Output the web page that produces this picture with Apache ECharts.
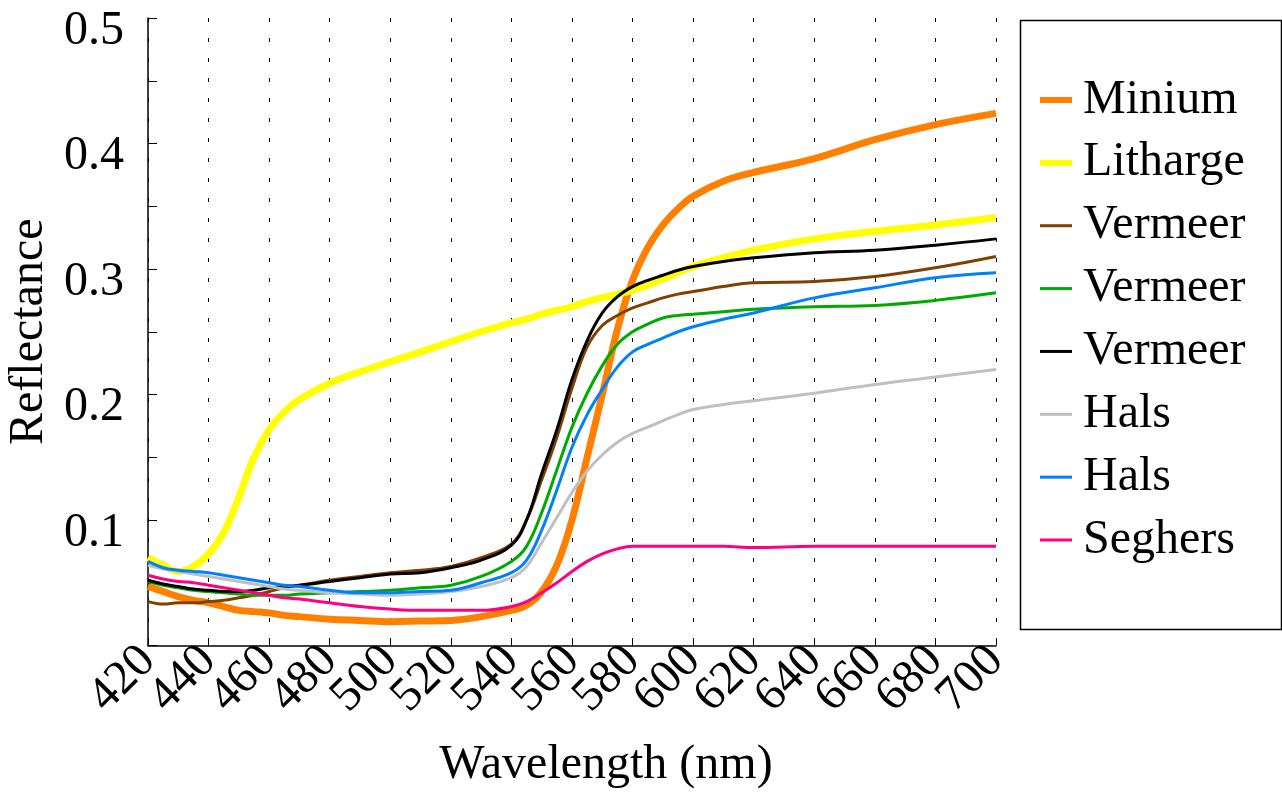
<!DOCTYPE html>
<html>
<head>
<meta charset="utf-8">
<script src="https://cdn.jsdelivr.net/npm/echarts@6/dist/echarts.min.js"></script>
<style>
html,body{margin:0;padding:0;background:#fff;}
#chart{width:1282px;height:798px;}
</style>
</head>
<body>
<div id="chart"></div>
<script>
var wavelengths = [420,425,430,435,440,445,450,455,460,465,470,480,490,500,510,520,530,540,545,550,555,560,565,570,575,580,585,590,595,600,610,620,640,660,680,700];

var minium   = [.047,.043,.039,.036,.034,.031,.028,.027,.026,.024,.023,.021,.020,.019,.0195,.020,.023,.028,.032,.043,.064,.100,.150,.200,.252,.291,.317,.335,.348,.358,.370,.377,.388,.403,.415,.424];
var litharge = [.070,.064,.059,.063,.073,.090,.118,.150,.172,.186,.196,.209,.218,.226,.234,.242,.250,.257,.260,.264,.267,.270,.274,.277,.280,.283,.287,.292,.297,.302,.309,.315,.324,.330,.335,.341];
var vermeer1 = [.035,.033,.034,.034,.035,.036,.038,.040,.043,.046,.048,.052,.055,.058,.060,.063,.070,.081,.100,.132,.166,.205,.238,.255,.263,.269,.273,.277,.280,.282,.286,.289,.290,.294,.301,.310];
var vermeer2 = [.051,.048,.046,.044,.043,.042,.041,.040,.040,.040,.041,.042,.043,.044,.046,.048,.055,.067,.079,.106,.140,.174,.201,.223,.240,.250,.256,.261,.263,.264,.266,.268,.270,.271,.275,.281];
var vermeer3 = [.052,.049,.047,.045,.044,.043,.043,.044,.046,.047,.048,.051,.054,.057,.058,.062,.068,.080,.100,.137,.172,.212,.243,.265,.278,.286,.291,.295,.299,.302,.306,.309,.313,.315,.319,.324];
var hals1    = [.064,.061,.059,.057,.055,.053,.051,.049,.047,.045,.044,.042,.041,.040,.041,.043,.047,.054,.063,.082,.102,.122,.139,.152,.162,.169,.174,.179,.184,.188,.192,.195,.201,.208,.214,.220];
var hals2    = [.067,.062,.060,.059,.058,.056,.054,.052,.050,.048,.047,.044,.042,.042,.043,.044,.050,.058,.068,.092,.124,.158,.184,.204,.222,.234,.240,.245,.250,.254,.260,.265,.277,.285,.293,.297];
var seghers  = [.056,.053,.051,.050,.048,.046,.044,.042,.040,.038,.037,.034,.031,.029,.028,.028,.028,.031,.035,.042,.050,.059,.067,.073,.077,.079,.079,.079,.079,.079,.079,.078,.079,.079,.079,.079];

var seriesNames = ['Minium','Litharge','Vermeer','Vermeer','Vermeer','Hals','Hals','Seghers'];
var seriesData = [minium, litharge, vermeer1, vermeer2, vermeer3, hals1, hals2, seghers];
var seriesColors = ['#ff8000','#ffff00','#804000','#00aa00','#000000','#c0c0c0','#0080ff','#ff0080'];
var seriesWidths = [7,7,3,3,3,3,3,3];
var legendWidths = [6,6,3,3,3,3,3,3];

var xTicks = [420,440,460,480,500,520,540,560,580,600,620,640,660,680,700];
var yTicks = [0.1,0.2,0.3,0.4,0.5];

var FONT = '"Liberation Serif", "Times New Roman", serif';

var chart = echarts.init(document.getElementById('chart'), null, {renderer:'canvas'});

var series = seriesNames.map(function(n, i){
  return {
    name: n + ' ' + (i + 1),
    type: 'line',
    xAxisIndex: 0,
    showSymbol: false,
    symbol: 'none',
    smooth: 0.4,
    animation: false,
    color: seriesColors[i],
    lineStyle: {width: seriesWidths[i], color: seriesColors[i]},
    data: wavelengths.map(function(w, j){ return [w, seriesData[i][j]]; })
  };
});

// legend drawn as graphic elements (names repeat, so the legend component would merge them)
var graphics = [{
  type: 'rect', left: 1018, top: 18, z: 100,
  shape: {x: 0, y: 0, width: 261, height: 609},
  style: {fill: 'none', stroke: '#000', lineWidth: 1.5}
}];
seriesNames.forEach(function(n, i){
  var yc = 100 + i * 62.86;
  graphics.push({
    type: 'line', z: 100,
    shape: {x1: 1040, y1: yc, x2: 1072, y2: yc},
    style: {stroke: seriesColors[i], lineWidth: legendWidths[i]}
  });
  graphics.push({
    type: 'text', z: 100, x: 1083, y: yc,
    style: {text: n, font: '48px ' + FONT, fill: '#000', textVerticalAlign: 'middle', verticalAlign: 'middle', textAlign: 'left', align: 'left'}
  });
});

var edgeTicks = [xTicks[0], xTicks[xTicks.length - 1]];
var innerTicks = xTicks.slice(1, xTicks.length - 1);

var xLabelBase = {rotate: 45, margin: 8, fontFamily: FONT, fontSize: 48, color: '#000'};

chart.setOption({
  animation: false,
  backgroundColor: '#fff',
  grid: {left: 148, right: 286, top: 18, bottom: 152.5, containLabel: false, outerBoundsMode: 'none'},
  xAxis: [{
    type: 'value', min: 420, max: 700, interval: 20, position: 'bottom',
    name: 'Wavelength (nm)', nameLocation: 'middle', nameGap: 96,
    nameTextStyle: {fontFamily: FONT, fontSize: 48, color: '#000', padding: [0,0,0,68]},
    axisLine: {show: true, lineStyle: {color: '#000', width: 1.5}},
    axisTick: {show: true, inside: true, length: 5, lineStyle: {color: '#000', width: 1}},
    axisLabel: Object.assign({}, xLabelBase, {
      formatter: function(v){ return innerTicks.indexOf(v) >= 0 ? String(v) : ''; }
    }),
    splitLine: {show: true, lineStyle: {color: '#000', width: 1, type: [4,16]}}
  }, {
    type: 'value', min: 420, max: 700, interval: 20, position: 'bottom', offset: 0,
    axisLine: {show: false}, axisTick: {show: false}, splitLine: {show: false},
    axisLabel: Object.assign({}, xLabelBase, {
      showMinLabel: true, showMaxLabel: true,
      formatter: function(v){ return edgeTicks.indexOf(v) >= 0 ? String(v) : ''; }
    })
  }],
  yAxis: {
    type: 'value', min: 0, max: 0.5, interval: 0.1,
    name: 'Reflectance', nameLocation: 'middle', nameGap: 88, nameRotate: 90,
    nameTextStyle: {fontFamily: FONT, fontSize: 48, color: '#000'},
    axisLine: {show: true, lineStyle: {color: '#000', width: 1.5}},
    axisTick: {show: true, inside: true, length: 9, lineStyle: {color: '#000', width: 1}},
    minorTick: {show: true, splitNumber: 2, length: 9, lineStyle: {color: '#000', width: 1}},
    axisLabel: {
      margin: 24, fontFamily: FONT, fontSize: 48, color: '#000',
      verticalAlign: 'top', lineHeight: 26,
      showMinLabel: true, showMaxLabel: true,
      formatter: function(v){
        var r = Math.round(v*10)/10;
        return yTicks.indexOf(r) >= 0 ? r.toFixed(1) : '';
      }
    },
    splitLine: {show: false}
  },
  graphic: graphics,
  series: series
});
</script>
</body>
</html>
